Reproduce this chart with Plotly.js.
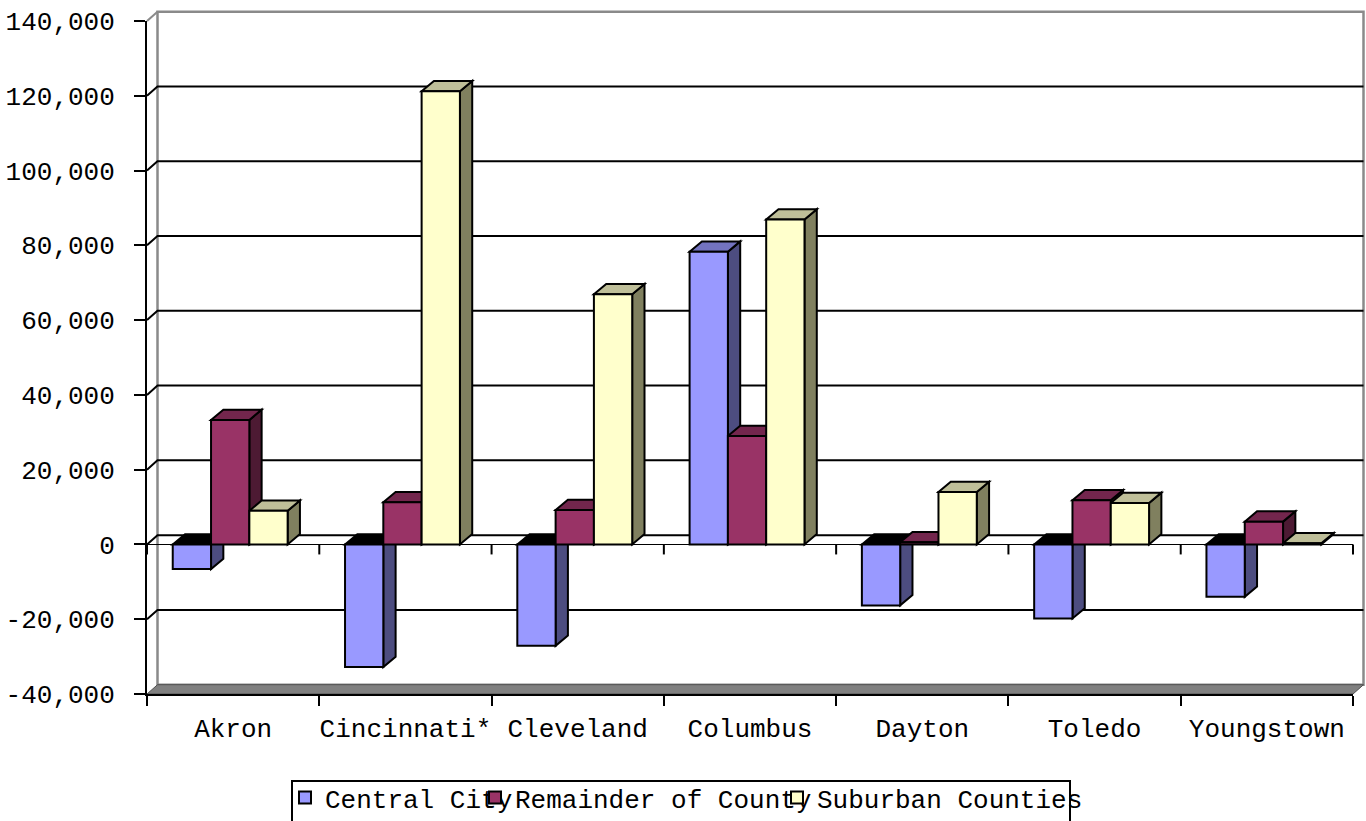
<!DOCTYPE html>
<html>
<head>
<meta charset="utf-8">
<script src="https://cdn.plot.ly/plotly-3.0.1.min.js"></script>
<style>
  html, body { margin: 0; padding: 0; background: #fff; overflow: hidden; }
  #chart { width: 1366px; height: 821px; }
</style>
</head>
<body>
<div id="chart"></div>
<script>
// Population change by Ohio metro area: central city, rest of county, suburban counties
const cities = ['Akron', 'Cincinnati*', 'Cleveland', 'Columbus', 'Dayton', 'Toledo', 'Youngstown'];
const seriesNames = ['Central City', 'Remainder of County', 'Suburban Counties'];
const centralCity       = [-6600, -32800, -27100, 78300, -16300, -19800, -14000];
const remainderOfCounty = [33300, 11300, 9200, 29000, 600, 11800, 6100];
const suburbanCounties  = [9000, 121200, 66900, 86900, 14000, 11100, 300];
const yTickVals = [-40000, -20000, 0, 20000, 40000, 60000, 80000, 100000, 120000, 140000];
const yTickText = ['-40,000', '-20,000', '0', '20,000', '40,000', '60,000', '80,000', '100,000', '120,000', '140,000'];

// ---- styling ----
const FONT = 'Liberation Mono, Courier New, monospace';
const frontColors = ['#9999FF', '#993366', '#FFFFCC'];
const sideColors  = ['#4D4D80', '#4D1A33', '#80805F'];
const topColors   = ['#7373BF', '#73264D', '#BFBF99'];

const W = 1366, H = 821;
const M = { l: 147, r: 13, t: 21, b: 127, autoexpand: false };
const plotW = W - M.l - M.r, plotH = H - M.t - M.b;
const yMin = yTickVals[0], yMax = yTickVals[yTickVals.length - 1];
const nCat = cities.length;
const xLo = -0.5, xHi = nCat - 0.5;

// bar placement inside each category (category units)
const BAR_W = 0.2223;
const OFFSETS = [-0.3506, -0.3506 + BAR_W, -0.3506 + 2 * BAR_W];

// oblique depth of bars and walls, in pixels (right / up)
const BAR_DX_PX = 12.3, BAR_DY_PX = 10.3;
const WALL_DX_PX = 10.5, WALL_DY_PX = 9.3;
const pxPerCat = plotW / (xHi - xLo);
const pxPerUnitY = plotH / (yMax - yMin);
const BDX = BAR_DX_PX / pxPerCat;
const BDY = BAR_DY_PX / pxPerUnitY;

// data -> paper helpers for the box frame (paper shapes are not clipped)
const xp = v => (v - xLo) / (xHi - xLo);
const yp = v => (v - yMin) / (yMax - yMin);
const WX = WALL_DX_PX / plotW, WY = WALL_DY_PX / plotH;
const pxX = px => (px - M.l) / plotW;          // page pixel -> paper x
const pxY = py => (H - M.b - py) / plotH;      // page pixel -> paper y

const series = [centralCity, remainderOfCounty, suburbanCounties];
const shapes = [];
const X0 = xp(xLo), X1 = xp(xHi);

// back wall
shapes.push({
  type: 'rect', xref: 'paper', yref: 'paper', layer: 'below',
  x0: X0 + WX, x1: X1 + WX, y0: yp(yMin) + WY, y1: yp(yMax) + WY,
  fillcolor: '#ffffff', line: { color: '#8a8a8a', width: 2.5 }
});
// left wall top edge
shapes.push({
  type: 'path', xref: 'paper', yref: 'paper', layer: 'below',
  path: `M${X0},${yp(yMax)} L${X0 + WX},${yp(yMax) + WY}`,
  line: { color: '#8a8a8a', width: 2 }
});
// gridlines running across the left wall and along the back wall
yTickVals.slice(1, -1).forEach(t => {
  shapes.push({
    type: 'path', xref: 'paper', yref: 'paper', layer: 'below',
    path: `M${X0},${yp(t)} L${X0 + WX},${yp(t) + WY} L${X1 + WX},${yp(t) + WY}`,
    line: { color: '#000000', width: 2 }
  });
});
// floor slab
shapes.push({
  type: 'path', xref: 'paper', yref: 'paper', layer: 'below',
  path: `M${X0},${yp(yMin)} L${X1},${yp(yMin)} L${X1 + WX},${yp(yMin) + WY} L${X0 + WX},${yp(yMin) + WY} Z`,
  fillcolor: '#808080', line: { color: '#505050', width: 1 }
});
// category tick marks hanging from the zero line
for (let b = 0; b <= nCat; b++) {
  const xb = xp(xLo + b);
  shapes.push({
    type: 'line', xref: 'paper', yref: 'paper', layer: 'below',
    x0: xb, x1: xb, y0: yp(0), y1: yp(0) - 10 / plotH,
    line: { color: '#000000', width: 2 }
  });
}

// bar side faces, then top faces (front faces are the bar traces)
const sideFaces = [], topFaces = [];
series.forEach((vals, s) => {
  vals.forEach((v, i) => {
    const left = i + OFFSETS[s], right = left + BAR_W;
    sideFaces.push({
      type: 'path', xref: 'x', yref: 'y', layer: 'below',
      path: `M${right},0 L${right},${v} L${right + BDX},${v + BDY} L${right + BDX},${BDY} Z`,
      fillcolor: sideColors[s], line: { color: '#000000', width: 2 }
    });
    const tv = Math.max(v, 0);
    topFaces.push({
      type: 'path', xref: 'x', yref: 'y', layer: 'below',
      path: `M${left},${tv} L${right},${tv} L${right + BDX},${tv + BDY} L${left + BDX},${tv + BDY} Z`,
      fillcolor: v >= 0 ? topColors[s] : '#000000', line: { color: '#000000', width: 2 }
    });
  });
});
shapes.push(...sideFaces, ...topFaces);

// legend frame
shapes.push({
  type: 'rect', xref: 'paper', yref: 'paper', layer: 'below',
  x0: pxX(292), x1: pxX(1070), y0: pxY(781), y1: pxY(840),
  fillcolor: 'rgba(0,0,0,0)', line: { color: '#000000', width: 2 }
});

const legendIds = ['legend', 'legend2', 'legend3'];
const legendTextX = [323, 513, 815];

const traces = series.map((vals, s) => ({
  type: 'bar',
  name: seriesNames[s],
  x: cities,
  y: vals,
  base: 0,
  offset: OFFSETS[s],
  width: BAR_W,
  legend: legendIds[s],
  marker: { color: frontColors[s], line: { color: '#000000', width: 2 } },
  hoverinfo: 'skip'
}));

const legendCommon = {
  orientation: 'h', xanchor: 'left', yanchor: 'top',
  bgcolor: 'rgba(0,0,0,0)', borderwidth: 0,
  font: { family: FONT, size: 26, color: '#000000' }
};
const LEGEND_TOP = 774;

const layout = {
  width: W, height: H,
  margin: M,
  paper_bgcolor: '#ffffff',
  plot_bgcolor: 'rgba(0,0,0,0)',
  barmode: 'overlay',
  showlegend: true,
  xaxis: {
    type: 'category',
    range: [xLo, xHi],
    tickson: 'boundaries',
    tickangle: 0,
    ticks: 'outside', ticklen: 10, tickwidth: 2, tickcolor: '#000000',
    showline: true, linewidth: 2, linecolor: '#000000',
    showgrid: false, zeroline: false,
    ticklabelstandoff: 10,
    tickfont: { family: FONT, size: 26, color: '#000000' },
    automargin: false,
    fixedrange: true
  },
  yaxis: {
    range: [yMin, yMax],
    tickvals: yTickVals, ticktext: yTickText,
    ticks: 'outside', ticklen: 11, tickwidth: 2, tickcolor: '#000000',
    showline: true, linewidth: 2, linecolor: '#000000',
    showgrid: false,
    zeroline: true, zerolinecolor: '#000000', zerolinewidth: 1.5,
    ticklabelstandoff: 14,
    tickfont: { family: FONT, size: 26, color: '#000000' },
    automargin: false,
    fixedrange: true
  },
  legend:  Object.assign({}, legendCommon, { x: pxX(legendTextX[0] - 38), y: pxY(LEGEND_TOP) }),
  legend2: Object.assign({}, legendCommon, { x: pxX(legendTextX[1] - 38), y: pxY(LEGEND_TOP) }),
  legend3: Object.assign({}, legendCommon, { x: pxX(legendTextX[2] - 38), y: pxY(LEGEND_TOP) }),
  shapes: shapes
};

Plotly.newPlot('chart', traces, layout, { staticPlot: true, displayModeBar: false });
</script>
</body>
</html>
